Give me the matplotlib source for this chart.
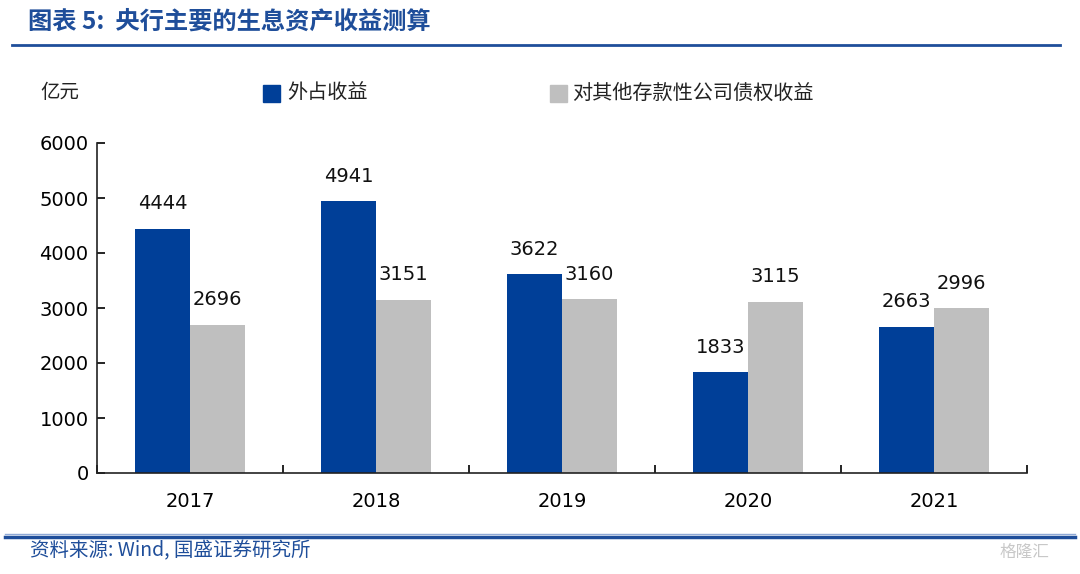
import numpy as np
import matplotlib
matplotlib.use("Agg")
import matplotlib.pyplot as plt
from matplotlib.patches import Rectangle
from matplotlib.lines import Line2D

plt.rcParams['font.family'] = ['DejaVu Sans', 'Noto Sans CJK SC']

years = ['2017', '2018', '2019', '2020', '2021']
waizhan = [4444, 4941, 3622, 1833, 2663]
zhaiquan = [2696, 3151, 3160, 3115, 2996]
series_names = ['外占收益', '对其他存款性公司债权收益']

blue = '#003F98'
gray = '#BFBFBF'
title_blue = '#1F4E9A'
cjk = ['Noto Sans CJK SC', 'DejaVu Sans']

fig = plt.figure(figsize=(10.8, 5.74), dpi=100)
ax = fig.add_axes([97 / 1080, 1 - 473 / 574, (1027 - 97) / 1080, (473 - 143) / 574])

x = np.arange(len(years))
w = 0.295
b1 = ax.bar(x - w / 2, waizhan, w, color=blue)
b2 = ax.bar(x + w / 2, zhaiquan, w, color=gray)

for bars, vals in ((b1, waizhan), (b2, zhaiquan)):
    for bar, v in zip(bars, vals):
        ax.annotate(str(v), (bar.get_x() + bar.get_width() / 2, v),
                    xytext=(0, 11), textcoords='offset points',
                    ha='center', va='bottom', fontsize=14, color='#111111')

ax.set_xlim(-0.5, len(years) - 0.5)
ax.set_ylim(0, 6000)
ax.set_yticks(range(0, 6001, 1000))
ax.set_xticks(x)
ax.set_xticklabels(years)
ax.set_xticks(np.arange(-0.5, len(years)), minor=True)
ax.tick_params(axis='x', which='major', length=0, pad=14, labelsize=14)
ax.tick_params(axis='x', which='minor', length=6, direction='in', width=1.2)
ax.tick_params(axis='y', length=6, direction='in', width=1.2, labelsize=14, pad=6)
for s in ('top', 'right'):
    ax.spines[s].set_visible(False)
for s in ('left', 'bottom'):
    ax.spines[s].set_linewidth(1.2)
    ax.spines[s].set_color('#222222')

# title and rules
fig.text(28 / 1080, 1 - 22 / 574, '图表 5:  央行主要的生息资产收益测算', family=cjk,
         fontsize=17.5, fontweight='bold', style='italic', color=title_blue, va='center')
fig.add_artist(Line2D([12 / 1080, 1060 / 1080], [1 - 45 / 574] * 2, color=title_blue, lw=2))
fig.add_artist(Line2D([5 / 1080, 1075 / 1080], [1 - 537 / 574] * 2, color=title_blue, lw=2.5))
fig.add_artist(Line2D([5 / 1080, 1075 / 1080], [1 - 534 / 574] * 2, color='#8FA9D6', lw=1))
fig.text(30 / 1080, 1 - 551 / 574, '资料来源: Wind, 国盛证券研究所', family=cjk,
         fontsize=14, style='italic', color=title_blue, va='center')
fig.text(1000 / 1080, 1 - 552 / 574, '格隆汇', family=cjk, fontsize=12,
         color='#C8C8C8', va='center')

# unit label and legend
fig.text(40 / 1080, 1 - 93 / 574, '亿元', family=cjk, fontsize=14, color='#222222', va='center')
fig.add_artist(Rectangle((263 / 1080, 1 - 102 / 574), 17 / 1080, 17 / 574, color=blue,
                         transform=fig.transFigure))
fig.text(287 / 1080, 1 - 93 / 574, series_names[0], family=cjk, fontsize=14.5,
         color='#222222', va='center')
fig.add_artist(Rectangle((550 / 1080, 1 - 102 / 574), 17 / 1080, 17 / 574, color=gray,
                         transform=fig.transFigure))
fig.text(572 / 1080, 1 - 93 / 574, series_names[1], family=cjk, fontsize=14.5,
         color='#222222', va='center')

fig.savefig('out.png', dpi=100)
